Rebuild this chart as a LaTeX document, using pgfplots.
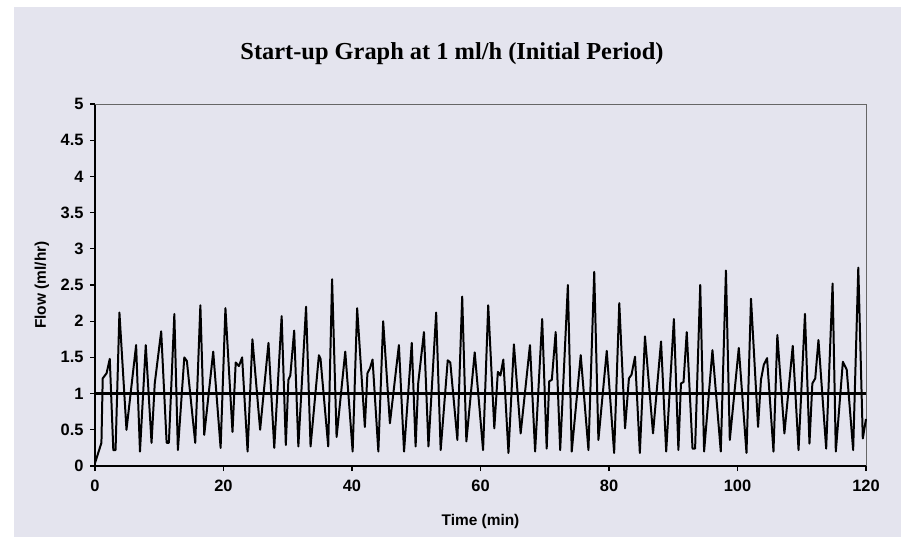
\documentclass[border=0pt]{standalone}
\usepackage{pgfplots}
\pgfplotsset{compat=1.18}
\usepackage{fontspec}
\setmainfont{Liberation Sans}
\newfontfamily\titlefont{Liberation Serif}
\definecolor{paper}{RGB}{228,228,238}

\begin{document}
\begin{tikzpicture}
% page background (scanned paper)
\fill[white] (-95bp,-75bp) rectangle (812bp,466bp);
\fill[paper] (-81bp,-71bp) rectangle (806bp,459bp);
\node[font=\titlefont\bfseries\fontsize{24.5}{28}\selectfont] at (357bp,412bp) {Start-up Graph at 1 ml/h (Initial Period)};
\begin{axis}[
    scale only axis,
    width=771bp, height=362bp,
    xmin=0, xmax=120, ymin=0, ymax=5,
    axis x line*=bottom, axis y line*=left,
    axis line style={black, line width=1.4pt, -},
    xtick={0,20,...,120},
    ytick={0,0.5,...,5},
    tick align=outside,
    major tick length=5bp,
    tick style={black, line width=1.2pt},
    /pgf/number format/assume math mode=true,
    tick label style={font=\bfseries\fontsize{16.5}{18}\selectfont},
    xticklabel style={yshift=-6bp},
    yticklabel style={xshift=-3bp},
    xlabel={Time (min)}, ylabel={Flow (ml/hr)},
    label style={font=\bfseries\fontsize{15.5}{17}\selectfont},
    xlabel style={at={(axis description cs:0.5,-0.152)}, anchor=center},
    ylabel style={at={(axis description cs:-0.069,0.5)}, anchor=center},
    clip=false,
]
\draw[gray!80!black, line width=0.8pt] (rel axis cs:0,1) -- (rel axis cs:1,1) -- (rel axis cs:1,0);
\addplot[black, line width=2pt, mark=none, line join=round] coordinates {
(0,0.04) (1.0,0.32) (1.2,1.21) (1.8,1.28) (2.3,1.48) (2.85,0.22) (3.2,0.22)
(3.8,2.12) (4.9,0.5) (6.4,1.67) (7.0,0.2) (7.9,1.67) (8.8,0.32) (9.3,1.14)
(10.3,1.86) (11.15,0.32) (11.5,0.32) (12.35,2.1) (12.9,0.22) (13.9,1.5)
(14.3,1.45) (15.6,0.32) (16.4,2.22) (17.0,0.43) (18.4,1.58) (19.55,0.25)
(20.3,2.18) (21.4,0.47) (21.9,1.43) (22.4,1.38) (22.9,1.5) (23.75,0.2)
(24.5,1.75) (25.7,0.5) (27.0,1.7) (27.9,0.25) (29.05,2.07) (29.7,0.29)
(30.1,1.19) (30.4,1.25) (31.0,1.87) (31.65,0.27) (32.85,2.2) (33.55,0.27)
(34.85,1.53) (35.1,1.48) (36.3,0.27) (36.9,2.58) (37.6,0.4) (38.95,1.58)
(40.1,0.2) (40.8,2.18) (42.0,0.54) (42.4,1.28) (42.8,1.35) (43.2,1.47)
(44.1,0.2) (44.85,2.0) (45.9,0.59) (47.3,1.67) (48.1,0.2) (49.3,1.7)
(49.9,0.27) (50.3,1.14) (51.2,1.85) (51.9,0.27) (53.1,2.12) (53.8,0.22)
(54.9,1.46) (55.3,1.43) (56.4,0.36) (57.15,2.34) (57.8,0.34) (59.1,1.57)
(60.4,0.22) (61.2,2.22) (62.15,0.52) (62.7,1.3) (63.1,1.25) (63.55,1.47)
(64.35,0.18) (65.2,1.68) (66.25,0.45) (67.7,1.67) (68.5,0.2) (69.6,2.03)
(70.3,0.24) (70.7,1.17) (71.1,1.19) (71.7,1.85) (72.4,0.22) (73.6,2.5)
(74.2,0.2) (75.6,1.53) (76.8,0.22) (77.7,2.68) (78.35,0.36) (79.65,1.59)
(80.8,0.18) (81.6,2.25) (82.5,0.52) (83.1,1.21) (83.5,1.26) (84.05,1.51)
(84.8,0.18) (85.6,1.79) (86.85,0.45) (88.1,1.72) (88.9,0.2) (90.1,2.03)
(90.8,0.22) (91.2,1.14) (91.6,1.16) (92.1,1.85) (93.0,0.24) (93.4,0.24)
(94.2,2.5) (94.8,0.2) (96.1,1.6) (97.4,0.2) (98.2,2.7) (98.8,0.36)
(100.2,1.63) (101.4,0.18) (102.1,2.31) (103.2,0.54) (103.65,1.19) (104.1,1.4)
(104.6,1.49) (105.6,0.2) (106.2,1.81) (107.3,0.45) (108.6,1.66) (109.5,0.22)
(110.5,2.1) (111.2,0.31) (111.65,1.14) (112.1,1.21) (112.6,1.74) (113.8,0.24)
(114.8,2.52) (115.3,0.2) (116.4,1.44) (117.0,1.33) (118.0,0.22) (118.8,2.74)
(119.5,0.38) (120,0.65)
};
\addplot[black, line width=2.4pt, mark=none] coordinates {(0,1) (120,1)};
\end{axis}
\end{tikzpicture}
\end{document}
